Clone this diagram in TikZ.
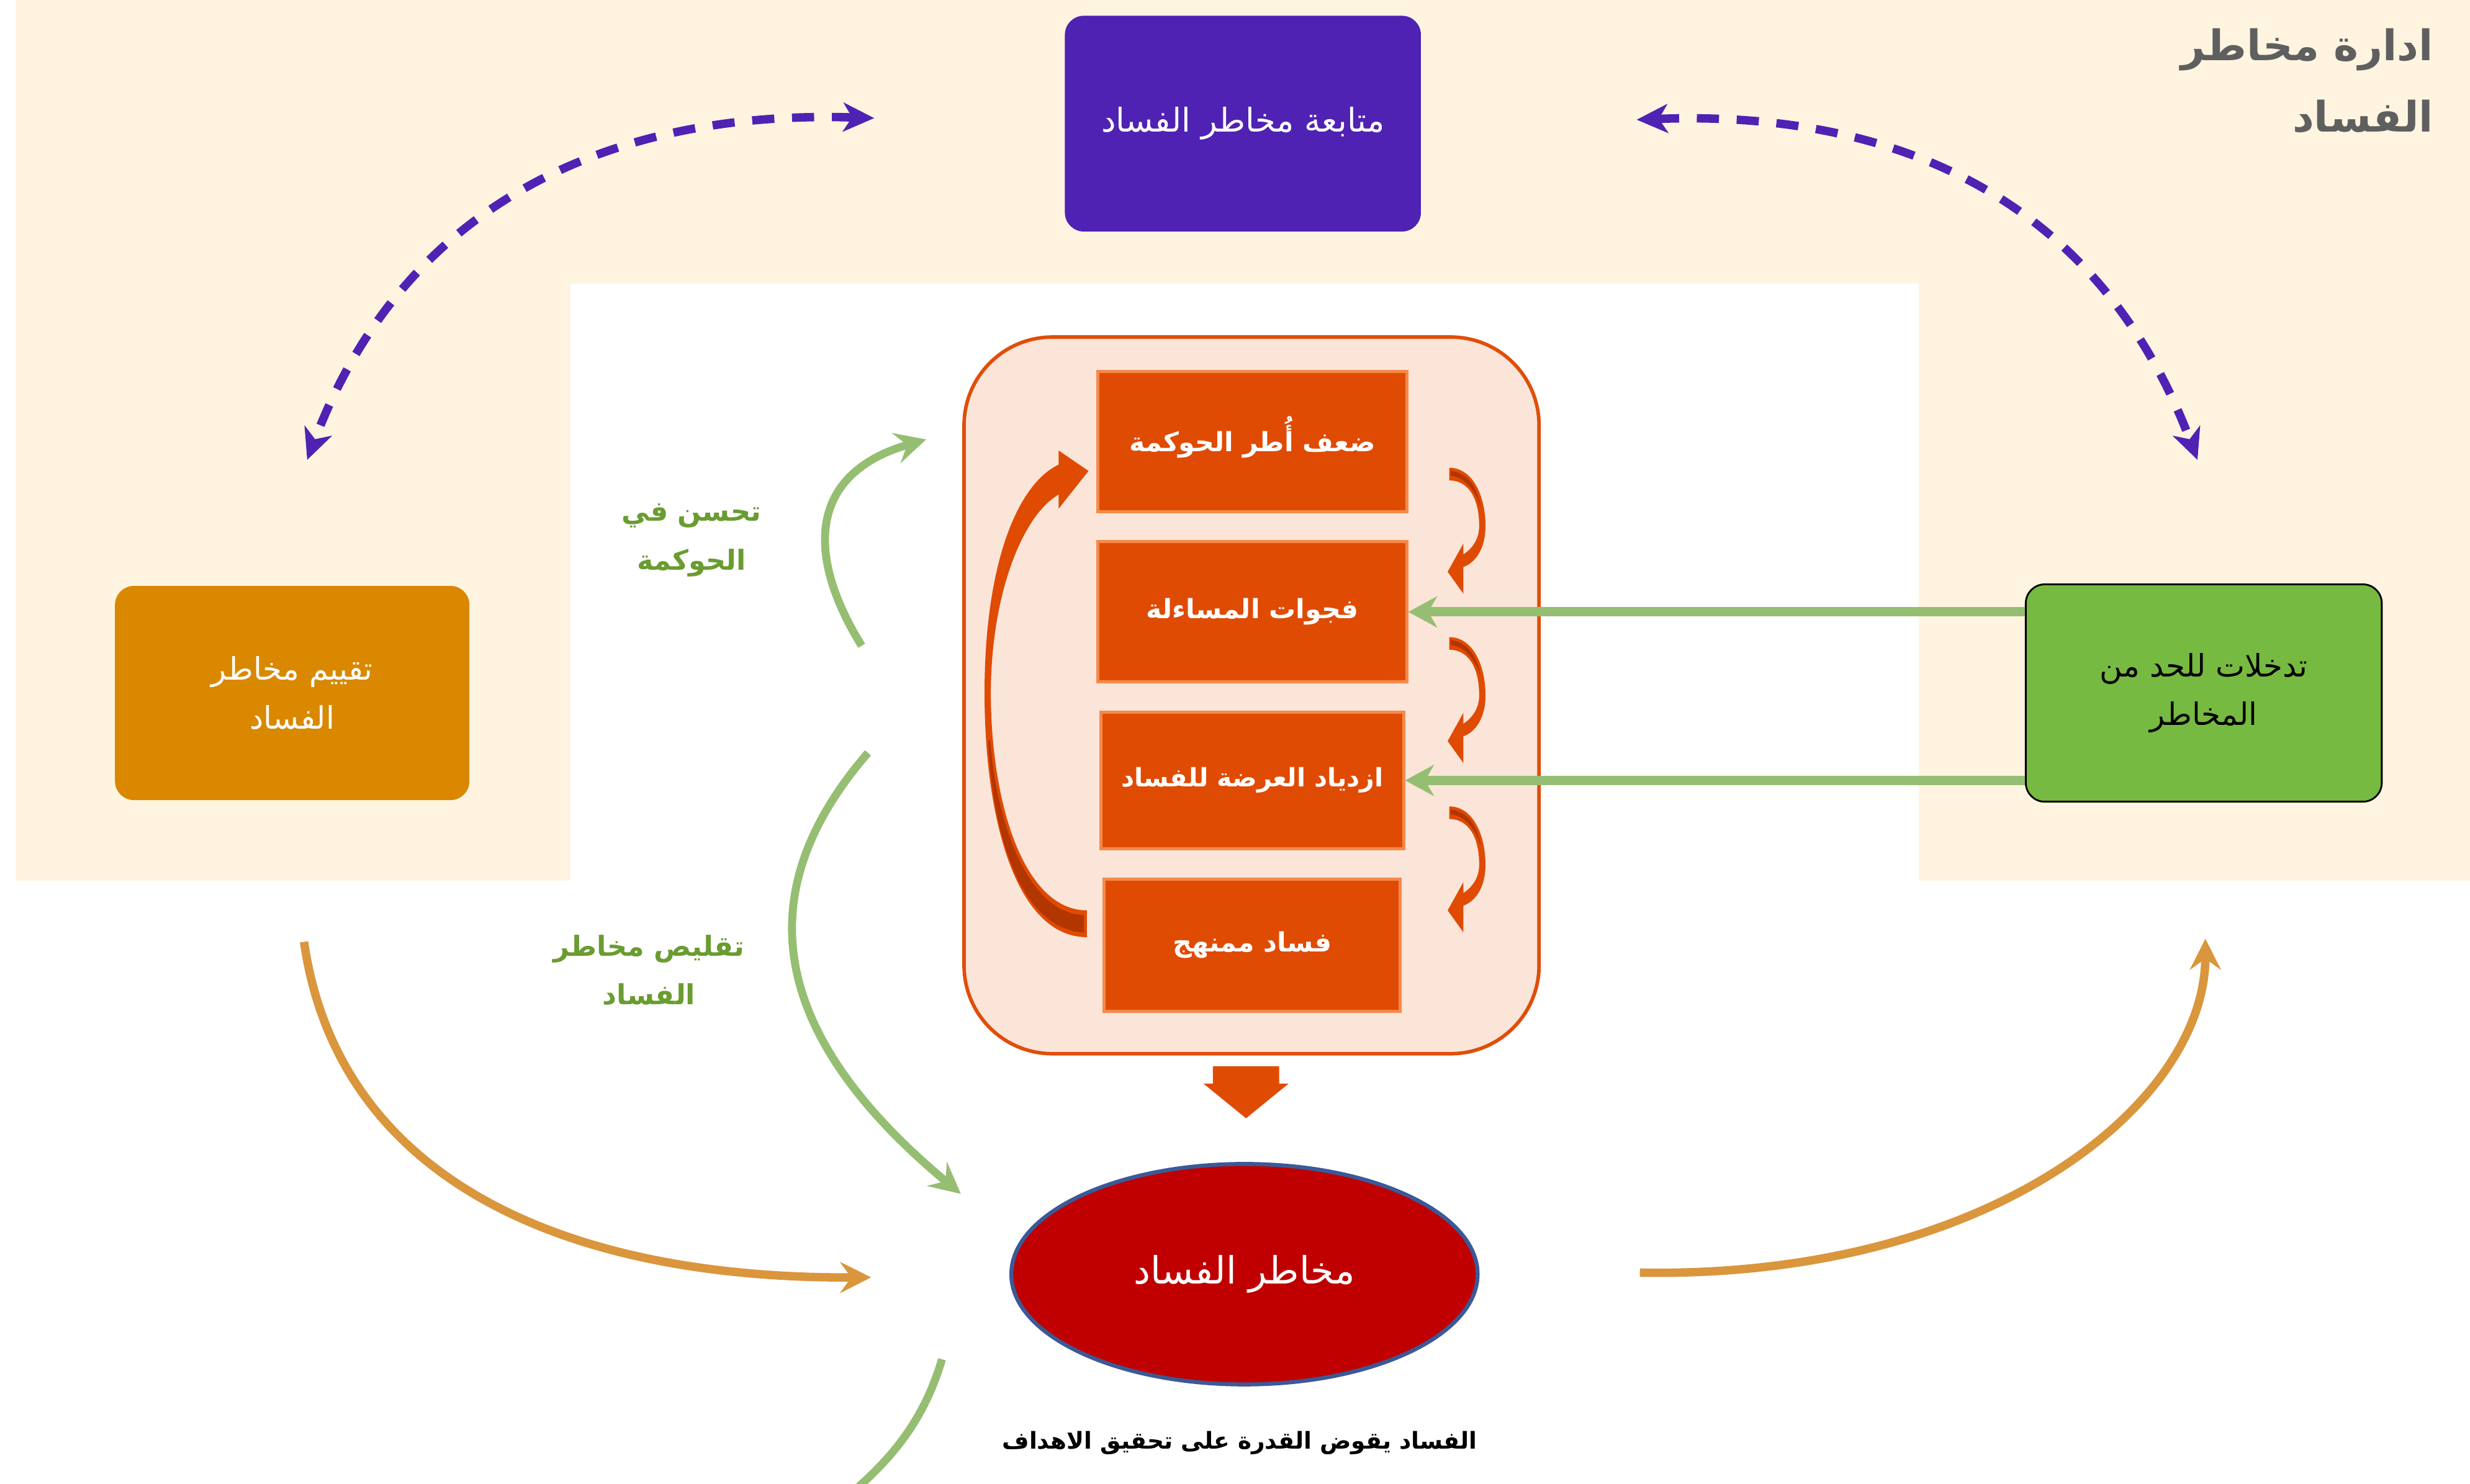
\documentclass[tikz,border=0pt]{standalone}
\usepackage{fontspec}
\usetikzlibrary{arrows.meta,fit,calc,shapes.geometric}
\TeXXeTstate=1
\newfontfamily\arfont[Script=Arabic]{DejaVu Sans}
\definecolor{bgpeach}{HTML}{FFF4E0}
\definecolor{purp}{HTML}{4F22B4}
\definecolor{obox}{HTML}{D98800}
\definecolor{gbox}{HTML}{77BA41}
\definecolor{contfill}{HTML}{FAE5D8}
\definecolor{contline}{HTML}{E04E0A}
\definecolor{inbox}{HTML}{E04B04}
\definecolor{inline}{HTML}{F5894B}
\definecolor{darkor}{HTML}{B33500}
\definecolor{garr}{HTML}{96BE72}
\definecolor{gtext}{HTML}{6A9C30}
\definecolor{ocurve}{HTML}{DA963C}
\definecolor{redell}{HTML}{C00000}
\definecolor{ellline}{HTML}{3B5998}
\definecolor{titlegray}{HTML}{5F5F5F}
\tikzset{
  mainbox/.style={inner sep=0pt, rounded corners=0.3cm, align=center},
  stepbox/.style={inner sep=0pt, fill=inbox, draw=inline, line width=1.4pt},
  steptext/.style={text=white, font={\arfont\bfseries\fontsize{12}{14}\selectfont}},
  purparrow/.style={purp, line width=3.8pt, dash pattern=on 10pt off 8pt,
     {Stealth[length=14pt,width=13pt,inset=4pt]}-{Stealth[length=14pt,width=13pt,inset=4pt]}},
  greenarrow/.style={garr, line width=4.2pt, -{Stealth[length=13pt,width=14pt,inset=4pt]}},
  greencurve/.style={garr, line width=3.6pt, -{Stealth[length=14pt,width=14pt,inset=5pt]}},
  orangecurve/.style={ocurve, line width=3.8pt, -{Stealth[length=14pt,width=14pt,inset=5pt]}},
  glabel/.style={text=gtext, align=center, font={\arfont\bfseries\fontsize{12.5}{22}\selectfont}},
}
\begin{document}
\begin{tikzpicture}[x=0.025cm,y=-0.025cm]
\useasboundingbox (0,0) rectangle (1568,942);
\fill[white] (0,0) rectangle (1568,942);
\fill[bgpeach] (10,0) -- (1568,0) -- (1568,559) -- (1218,559) -- (1218,180) -- (362,180) -- (362,559) -- (10,559) -- cycle;

% title
\node[anchor=north east, text=titlegray, align=right, inner sep=0pt, font={\arfont\bfseries\fontsize{19}{32}\selectfont}] (title) at (1545,18)
  {\beginR ادارة مخاطر\endR\\\beginR الفساد\endR};

% main boxes
\node[mainbox, fill=purp, fit={(676,10) (902,147)}] (top) {};
\node[text=white, font={\arfont\fontsize{14.8}{20}\selectfont}] (toptext) at (top.center) {\beginR متابعة مخاطر الفساد\endR};
\node[mainbox, fill=obox, fit={(73,372) (298,508)}] (left) {};
\node[text=white, align=center, font={\arfont\fontsize{14}{22}\selectfont}] (lefttext) at (left.center) {\beginR تقييم مخاطر\endR\\\beginR الفساد\endR};
\node[mainbox, fill=gbox, draw=black, line width=0.8pt, fit={(1286,371) (1512,509)}] (right) {};
\node[text=black, align=center, font={\arfont\fontsize{14}{22}\selectfont}] (righttext) at (right.center) {\beginR تدخلات للحد من\endR\\\beginR المخاطر\endR};

% container
\node[inner sep=0pt, fill=contfill, draw=contline, line width=1.6pt, rounded corners=1.4cm, fit={(612,214) (977,669)}] (cont) {};

% inner step boxes
\node[stepbox, fit={(697,236) (893,325)}] (b1) {};
\node[steptext] (t1) at ($(b1.center)+(0,-3)$) {\beginR ضعف أُطر  الحوكمة\endR};
\node[stepbox, fit={(697,344) (893,433)}] (b2) {};
\node[steptext] (t2) at (b2.center) {\beginR فجوات المساءلة\endR};
\node[stepbox, fit={(699,452) (891,539)}] (b3) {};
\node[steptext, font={\arfont\bfseries\fontsize{11.5}{14}\selectfont}] (t3) at (b3.center) {\beginR ازدياد العرضة للفساد\endR};
\node[stepbox, fit={(701,558) (889,642)}] (b4) {};
\node[steptext] (t4) at (b4.center) {\beginR فساد ممنهج\endR};

% small curved arrows between steps
\foreach \dy in {0,107.5,215}{
  \begin{scope}[yshift=-\dy*0.025cm]
  \fill[inbox] (920,297) .. controls (935,297) and (943,315) .. (943,334)
     .. controls (943,348) and (937,357) .. (929,360) -- (929,377) -- (919,363) -- (929,345) -- (929,352)
     .. controls (935,348) and (939,342) .. (939,334) .. controls (939,316) and (932,305) .. (920,305) -- cycle;
  \fill[darkor] (921,299) .. controls (932,300) and (938,310) .. (940,322) .. controls (937,312) and (930,303) .. (921,302) -- cycle;
  \end{scope}
}

% big return arrow
\fill[inbox] (690,595) .. controls (645,595) and (625,520) .. (625,440)
   .. controls (625,360) and (645,308) .. (672,295) -- (672,286) -- (691,299) -- (672,323) -- (672,314)
   .. controls (648,328) and (629,380) .. (629,440) .. controls (629,510) and (650,578) .. (690,578) -- cycle;
\fill[darkor] (688,592) .. controls (648,590) and (630,530) .. (627.3,470) -- (628.6,470)
   .. controls (632,520) and (652,580) .. (688,581) -- cycle;

% down block arrow
\fill[inbox] (770,677) -- (812,677) -- (812,688) -- (818,688) -- (791,710) -- (764,688) -- (770,688) -- cycle;

% ellipse
\node[ellipse, minimum width=296*0.025cm, minimum height=140*0.025cm, fill=redell, draw=ellline, line width=1.8pt, inner sep=0pt] (risk) at (790,809) {};
\node[text=white, font={\arfont\fontsize{17}{20}\selectfont}] (risktext) at (risk.center) {\beginR مخاطر الفساد\endR};

% bottom text
\node[font={\arfont\bfseries\fontsize{10.5}{14}\selectfont}] (goal) at (787,916) {\beginR الفساد يقوض القدرة على تحقيق الاهداف\endR};

% green horizontal arrows
\draw[greenarrow] (right.west |- b2.east) -- (b2.east);
\draw[greenarrow] (right.west |- b3.east) -- (b3.east);

% purple dashed arcs
\coordinate (pl1) at (555,75);
\coordinate (pl2) at (195,292);
\coordinate (pr1) at (1039,76);
\coordinate (pr2) at (1395,292);
\draw[purparrow] (pl1) .. controls (400,70) and (260,120) .. (pl2);
\draw[purparrow] (pr1) .. controls (1195,70) and (1330,120) .. (pr2);

% green curved arrows
\coordinate (g1s) at (547,410);
\coordinate (g1e) at (588,279);
\draw[greencurve] (g1s) .. controls (510,350) and (515,300) .. (g1e);
\coordinate (g2s) at (551,478);
\coordinate (g2e) at (610,758);
\draw[greencurve] (g2s) .. controls (480,560) and (480,650) .. (g2e);
\begin{scope}
\clip (0,0) rectangle (1568,942);
\coordinate (g3s) at (598,863);
\coordinate (g3e) at (538,950);
\draw[garr, line width=3.6pt] (g3s) .. controls (587,900) and (568,925) .. (g3e);
\end{scope}

% green labels
\node[glabel] (lab1) at (439,343) {\beginR تحسن في\endR\\\beginR الحوكمة\endR};
\node[glabel] (lab2) at (412,616) {\beginR تقليص مخاطر\endR\\\beginR الفساد\endR};

% orange curved arrows
\coordinate (o1s) at (193,598);
\coordinate (o1e) at (553,811);
\draw[orangecurve] (o1s) .. controls (215,750) and (360,812) .. (o1e);
\coordinate (o2s) at (1041,808);
\coordinate (o2e) at (1400,596);
\draw[orangecurve] (o2s) .. controls (1265,812) and (1400,700) .. (o2e);
\end{tikzpicture}
\end{document}
